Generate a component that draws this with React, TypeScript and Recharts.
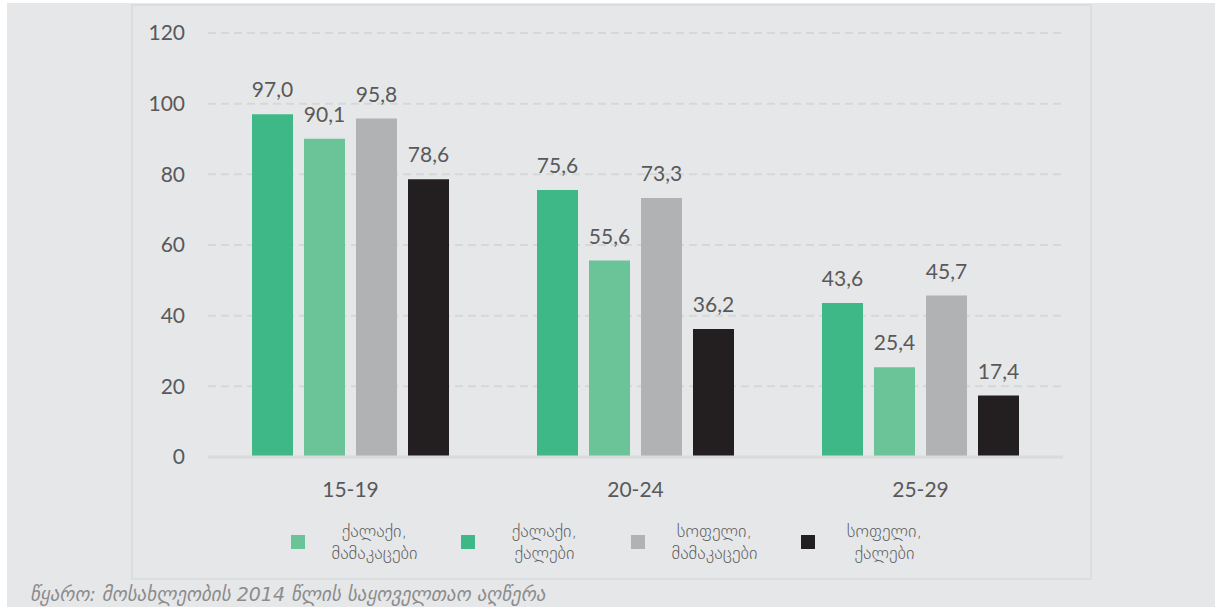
import { BarChart, Bar, XAxis, YAxis, CartesianGrid, LabelList } from 'recharts';

const categories = ['15-19', '20-24', '25-29'];
const cityWomen = [97.0, 75.6, 43.6];
const cityMen = [90.1, 55.6, 25.4];
const villageMen = [95.8, 73.3, 45.7];
const villageWomen = [78.6, 36.2, 17.4];
const yTicks = [0, 20, 40, 60, 80, 100, 120];

const series = [
  { key: 'cityWomen', name: 'ქალაქი, ქალები', line1: 'ქალაქი,', line2: 'ქალები', color: '#3fb888', values: cityWomen },
  { key: 'cityMen', name: 'ქალაქი, მამაკაცები', line1: 'ქალაქი,', line2: 'მამაკაცები', color: '#6bc497', values: cityMen },
  { key: 'villageMen', name: 'სოფელი, მამაკაცები', line1: 'სოფელი,', line2: 'მამაკაცები', color: '#b1b2b4', values: villageMen },
  { key: 'villageWomen', name: 'სოფელი, ქალები', line1: 'სოფელი,', line2: 'ქალები', color: '#231f20', values: villageWomen },
];

// legend shows the city men first, like the original
const legendOrder = ['cityMen', 'cityWomen', 'villageMen', 'villageWomen'];

const data = categories.map((cat, i) => {
  const row: { [key: string]: string | number } = { category: cat };
  series.forEach((s) => {
    row[s.key] = s.values[i];
  });
  return row;
});

const FONT = 'Lato, "DejaVu Sans", sans-serif';
const TEXT = '#595959';

const fmt = (v: any) => Number(v).toFixed(1).replace('.', ',');

function ChartLegend() {
  return (
    <div
      style={{
        position: 'absolute',
        left: 131,
        top: 520,
        width: 961,
        display: 'flex',
        justifyContent: 'center',
        gap: 38,
        fontFamily: '"DejaVu Sans", sans-serif',
      }}
    >
      {legendOrder.map((k) => {
        const s = series.find((x) => x.key === k)!;
        return (
          <div key={k} style={{ display: 'flex', alignItems: 'center' }}>
            <span style={{ width: 14, height: 14, background: s.color, display: 'inline-block', marginRight: 22 }} />
            <div style={{ textAlign: 'center', fontSize: 18, lineHeight: '22px', color: TEXT, fontWeight: 300, minWidth: 96 }}>
              <div>{s.line1}</div>
              <div>{s.line2}</div>
            </div>
          </div>
        );
      })}
    </div>
  );
}

export default function App() {
  return (
    <div style={{ position: 'fixed', left: 0, top: 0, width: 1215, height: 607, background: '#fff', overflow: 'hidden' }}>
      <div style={{ position: 'absolute', left: 7, top: 3, width: 1208, height: 604, background: '#e6e7e9' }} />
      <div
        style={{
          position: 'absolute',
          left: 131,
          top: 4,
          width: 957,
          height: 572,
          border: '2px solid #dcdddf',
        }}
      />
      <div style={{ position: 'absolute', left: 0, top: 0 }}>
        <BarChart
          width={1215}
          height={607}
          data={data}
          margin={{ top: 33, right: 152, bottom: 110, left: 0 }}
          barSize={41}
          barGap={11}
        >
          <CartesianGrid vertical={false} stroke="#d6d7d9" strokeWidth={2} strokeDasharray="8 5" />
          <XAxis
            dataKey="category"
            height={40}
            tickLine={false}
            tickSize={0}
            tickMargin={25}
            axisLine={{ stroke: '#d9dadc', strokeWidth: 3 }}
            tick={{ fill: TEXT, fontSize: 21, fontFamily: FONT }}
          />
          <YAxis
            width={208}
            domain={[0, 120]}
            ticks={yTicks}
            axisLine={false}
            tickLine={false}
            tickSize={0}
            tickMargin={23}
            tick={{ fill: TEXT, fontSize: 21, fontFamily: FONT }}
          />
          {series.map((s) => (
            <Bar key={s.key} dataKey={s.key} name={s.name} fill={s.color} isAnimationActive={false}>
              <LabelList
                dataKey={s.key}
                position="top"
                offset={17}
                formatter={fmt}
                style={{ fill: TEXT, fontSize: 21, fontFamily: FONT }}
              />
            </Bar>
          ))}
        </BarChart>
      </div>
      <ChartLegend />
      <div
        style={{
          position: 'absolute',
          left: 30,
          top: 583,
          fontFamily: '"DejaVu Sans", sans-serif',
          fontStyle: 'italic',
          fontSize: 19,
          lineHeight: '22px',
          color: '#8c8c8c',
          whiteSpace: 'nowrap',
        }}
      >
        წყარო: მოსახლეობის 2014 წლის საყოველთაო აღწერა
      </div>
    </div>
  );
}
